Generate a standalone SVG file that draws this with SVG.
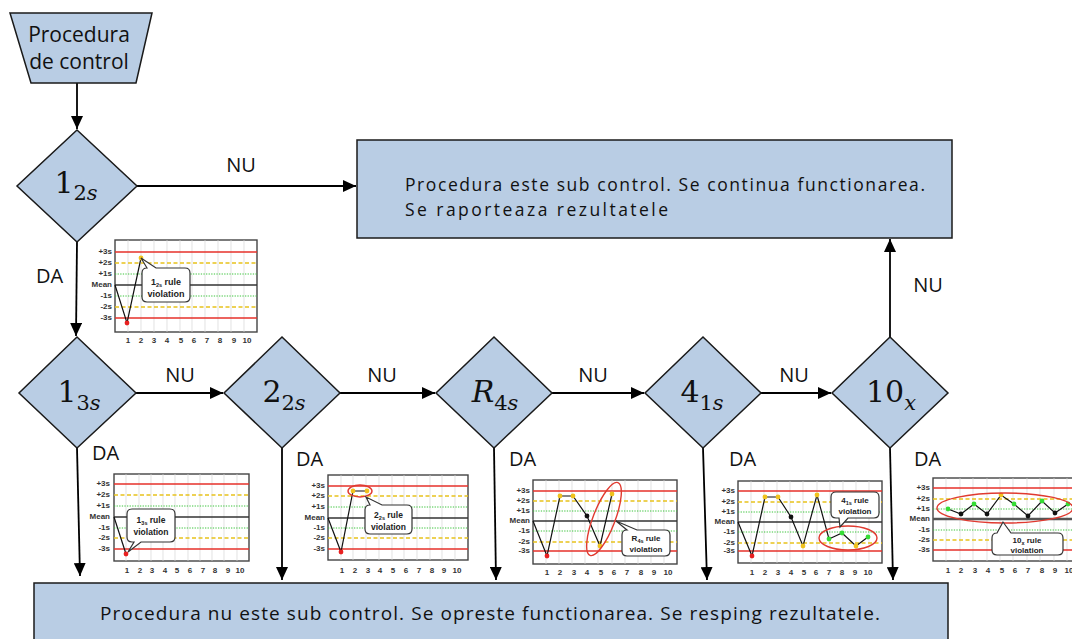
<svg xmlns="http://www.w3.org/2000/svg" width="1072" height="639" viewBox="0 0 1072 639">
<style>
.sh{fill:#b9cde4;stroke:#1a1a1a;stroke-width:1.5}
.t{font-family:"Open Sans","Noto Sans",sans-serif;fill:#111}
.lbl{font-family:"Open Sans","Noto Sans",sans-serif;font-size:20px;fill:#111}
.m{font-family:"DejaVu Serif","Liberation Serif",serif;fill:#111}
.c{stroke:#000;stroke-width:1.8;fill:none}
.fr{fill:#fff;stroke:#444;stroke-width:1.4}
.gr{stroke:#d6d6d6;stroke-width:0.7;fill:none}
.r{stroke:#e6302a;stroke-width:1.4}
.y{stroke:#e8c21c;stroke-width:1.3;stroke-dasharray:4 2.5}
.g{stroke:#3cc43c;stroke-width:1;stroke-dasharray:1.3 1.3}
.mn{stroke:#333;stroke-width:1.3}
.dl{stroke:#111;stroke-width:1.2;fill:none}
.ax{font-family:"Liberation Sans",Arial,sans-serif;font-size:8px;font-weight:bold;fill:#333}
.ax2{font-family:"Liberation Sans",Arial,sans-serif;font-size:8px;font-weight:bold;fill:#333;text-anchor:middle}
.co{fill:#fff;stroke:#333;stroke-width:1.2}
.ct{font-family:"Liberation Sans",Arial,sans-serif;font-weight:bold;fill:#222;text-anchor:middle}
.dr{fill:#e82020}.dy{fill:#f0c21e}.dk{fill:#111}.dg{fill:#35dd35}
.el{fill:none;stroke:#e03a30;stroke-width:1.4}
</style>
<defs>
<marker id="ah" markerUnits="userSpaceOnUse" markerWidth="14" markerHeight="12" refX="13" refY="6" orient="auto">
<path d="M0,0 L13,6 L0,12 Z" fill="#000"/>
</marker>
</defs>

<g id="connectors">
<line class="c" x1="77" y1="83" x2="77" y2="129" marker-end="url(#ah)"/>
<line class="c" x1="137" y1="186" x2="356" y2="186" marker-end="url(#ah)"/>
<line class="c" x1="77" y1="242" x2="76" y2="336" marker-end="url(#ah)"/>
<line class="c" x1="136" y1="393" x2="223" y2="393" marker-end="url(#ah)"/>
<line class="c" x1="340" y1="393" x2="435" y2="393" marker-end="url(#ah)"/>
<line class="c" x1="552" y1="393" x2="644" y2="393" marker-end="url(#ah)"/>
<line class="c" x1="761" y1="393" x2="831" y2="393" marker-end="url(#ah)"/>
<line class="c" x1="890" y1="337" x2="890" y2="239" marker-end="url(#ah)"/>
<line class="c" x1="77" y1="448" x2="80" y2="576" marker-end="url(#ah)"/>
<line class="c" x1="282" y1="448" x2="282" y2="580" marker-end="url(#ah)"/>
<line class="c" x1="494" y1="448" x2="496" y2="580" marker-end="url(#ah)"/>
<line class="c" x1="703" y1="448" x2="707" y2="580" marker-end="url(#ah)"/>
<line class="c" x1="890" y1="448" x2="893" y2="580" marker-end="url(#ah)"/>
<text class="lbl" x="241" y="172" text-anchor="middle">NU</text>
<text class="lbl" x="36" y="283">DA</text>
<text class="lbl" x="180" y="382" text-anchor="middle">NU</text>
<text class="lbl" x="382" y="382" text-anchor="middle">NU</text>
<text class="lbl" x="593" y="382" text-anchor="middle">NU</text>
<text class="lbl" x="794" y="382" text-anchor="middle">NU</text>
<text class="lbl" x="928" y="292" text-anchor="middle">NU</text>
<text class="lbl" x="92" y="460">DA</text>
<text class="lbl" x="296" y="466">DA</text>
<text class="lbl" x="509" y="466">DA</text>
<text class="lbl" x="729" y="466">DA</text>
<text class="lbl" x="914" y="466">DA</text>
</g>

<g id="start">
<polygon class="sh" points="10,13 152,13 136,83 31,83"/>
<text class="t" font-size="21" x="79" y="42" text-anchor="middle">Procedura</text>
<text class="t" font-size="21" x="79" y="69" text-anchor="middle">de control</text>
</g>

<g id="ok-box">
<rect class="sh" x="357" y="140" width="595" height="98"/>
<text class="t" font-size="17.5" x="405" y="191" textLength="520" lengthAdjust="spacing">Procedura este sub control. Se continua functionarea.</text>
<text class="t" font-size="17.5" x="405" y="216" textLength="263" lengthAdjust="spacing">Se raporteaza rezultatele</text>
</g>

<g id="fail-box">
<rect class="sh" x="34" y="583" width="914" height="58"/>
<text class="t" font-size="19" x="100" y="620" textLength="780" lengthAdjust="spacing">Procedura nu este sub control. Se opreste functionarea. Se resping rezultatele.</text>
</g>

<g id="d-1-2s">
<polygon class="sh" points="77,130 137,186 77,242 17,186"/>
<text class="m" x="76" y="193" text-anchor="middle" font-size="30">1<tspan font-size="21" dy="7">2<tspan font-style="italic">s</tspan></tspan></text>
</g>
<g id="d-1-3s">
<polygon class="sh" points="77,337 136,393 77,448 19,393"/>
<text class="m" x="79" y="402" text-anchor="middle" font-size="30">1<tspan font-size="21" dy="8">3<tspan font-style="italic">s</tspan></tspan></text>
</g>
<g id="d-2-2s">
<polygon class="sh" points="282,337 340,393 282,448 224,393"/>
<text class="m" x="284" y="402" text-anchor="middle" font-size="30">2<tspan font-size="21" dy="8">2<tspan font-style="italic">s</tspan></tspan></text>
</g>
<g id="d-r-4s">
<polygon class="sh" points="494,337 552,393 494,448 436,393"/>
<text class="m" x="495" y="402" text-anchor="middle" font-size="30"><tspan font-style="italic">R</tspan><tspan font-size="21" dy="8">4<tspan font-style="italic">s</tspan></tspan></text>
</g>
<g id="d-4-1s">
<polygon class="sh" points="703,337 761,393 703,448 645,393"/>
<text class="m" x="702" y="402" text-anchor="middle" font-size="30">4<tspan font-size="21" dy="8">1<tspan font-style="italic">s</tspan></tspan></text>
</g>
<g id="d-10x">
<polygon class="sh" points="890,337 948,393 890,448 832,393"/>
<text class="m" x="891" y="402" text-anchor="middle" font-size="30">10<tspan font-size="21" dy="8" font-style="italic">x</tspan></text>
</g>

<!-- chart 1: 1_2s -->
<g id="chart-1-2s">
<rect class="fr" x="115" y="240" width="142" height="92"/>
<path class="gr" d="M128,240V332M141,240V332M154,240V332M167,240V332M180,240V332M192,240V332M205,240V332M218,240V332M231,240V332M244,240V332"/>
<line class="r" x1="115" y1="252" x2="257" y2="252"/>
<line class="y" x1="115" y1="263" x2="257" y2="263"/>
<line class="g" x1="115" y1="274" x2="257" y2="274"/>
<line class="mn" x1="115" y1="285" x2="257" y2="285"/>
<line class="g" x1="115" y1="296" x2="257" y2="296"/>
<line class="y" x1="115" y1="307" x2="257" y2="307"/>
<line class="r" x1="115" y1="318" x2="257" y2="318"/>
<g class="ax" text-anchor="end">
<text x="112" y="254">+3s</text><text x="112" y="265">+2s</text><text x="112" y="276">+1s</text><text x="112" y="287">Mean</text><text x="112" y="298">-1s</text><text x="112" y="309">-2s</text><text x="112" y="320">-3s</text>
</g>
<g class="ax2">
<text x="128" y="343">1</text><text x="141" y="343">2</text><text x="154" y="343">3</text><text x="167" y="343">4</text><text x="181" y="343">5</text><text x="194" y="343">6</text><text x="207" y="343">7</text><text x="220" y="343">8</text><text x="234" y="343">9</text><text x="247" y="343">10</text>
</g>
<polyline class="dl" points="115,285 127,323 141,258"/>
<circle class="dr" cx="127" cy="323" r="2.4"/>
<circle class="dy" cx="141" cy="258" r="2.4"/>
<path class="co" d="M147,268 L141,258 L156,268 H185 Q190,268 190,273 V297 Q190,302 185,302 H147 Q142,302 142,297 V273 Q142,268 147,268 Z"/>
<text class="ct" font-size="9" x="166" y="285">1<tspan font-size="5.5" dy="1.5">2s</tspan><tspan dy="-1.5"> rule</tspan></text>
<text class="ct" font-size="9" x="166" y="297">violation</text>
</g>

<!-- chart 2: 1_3s -->
<g id="chart-1-3s">
<rect class="fr" x="114" y="474" width="135" height="87"/>
<path class="gr" d="M126,474V561M139,474V561M151,474V561M163,474V561M175,474V561M188,474V561M200,474V561M212,474V561M224,474V561M237,474V561"/>
<line class="r" x1="114" y1="484" x2="249" y2="484"/>
<line class="y" x1="114" y1="495" x2="249" y2="495"/>
<line class="g" x1="114" y1="506" x2="249" y2="506"/>
<line class="mn" x1="114" y1="517" x2="249" y2="517"/>
<line class="g" x1="114" y1="528" x2="249" y2="528"/>
<line class="y" x1="114" y1="538" x2="249" y2="538"/>
<line class="r" x1="114" y1="549" x2="249" y2="549"/>
<g class="ax" text-anchor="end">
<text x="110" y="486">+3s</text><text x="110" y="497">+2s</text><text x="110" y="508">+1s</text><text x="110" y="519">Mean</text><text x="110" y="530">-1s</text><text x="110" y="540">-2s</text><text x="110" y="551">-3s</text>
</g>
<g class="ax2">
<text x="127" y="573">1</text><text x="140" y="573">2</text><text x="152" y="573">3</text><text x="165" y="573">4</text><text x="177" y="573">5</text><text x="190" y="573">6</text><text x="203" y="573">7</text><text x="215" y="573">8</text><text x="228" y="573">9</text><text x="240" y="573">10</text>
</g>
<polyline class="dl" points="114,517 126,554"/>
<circle class="dr" cx="126" cy="554" r="2.4"/>
<path class="co" d="M132,509 H170 Q175,509 175,514 V537 Q175,542 170,542 H141 L128,552 L134,542 H132 Q127,542 127,537 V514 Q127,509 132,509 Z"/>
<text class="ct" font-size="8.5" x="151" y="523">1<tspan font-size="5.5" dy="1.5">3s</tspan><tspan dy="-1.5"> rule</tspan></text>
<text class="ct" font-size="8.5" x="151" y="535">violation</text>
</g>

<!-- chart 3: 2_2s -->
<g id="chart-2-2s">
<rect class="fr" x="328" y="475" width="140" height="85"/>
<path class="gr" d="M341,475V560M353,475V560M366,475V560M379,475V560M392,475V560M404,475V560M417,475V560M430,475V560M442,475V560M455,475V560"/>
<line class="r" x1="328" y1="486" x2="468" y2="486"/>
<line class="y" x1="328" y1="496" x2="468" y2="496"/>
<line class="g" x1="328" y1="507" x2="468" y2="507"/>
<line class="mn" x1="328" y1="518" x2="468" y2="518"/>
<line class="g" x1="328" y1="528" x2="468" y2="528"/>
<line class="y" x1="328" y1="538" x2="468" y2="538"/>
<line class="r" x1="328" y1="549" x2="468" y2="549"/>
<g class="ax" text-anchor="end">
<text x="325" y="488">+3s</text><text x="325" y="498">+2s</text><text x="325" y="509">+1s</text><text x="325" y="520">Mean</text><text x="325" y="530">-1s</text><text x="325" y="540">-2s</text><text x="325" y="551">-3s</text>
</g>
<g class="ax2">
<text x="342" y="573">1</text><text x="355" y="573">2</text><text x="368" y="573">3</text><text x="380" y="573">4</text><text x="393" y="573">5</text><text x="406" y="573">6</text><text x="419" y="573">7</text><text x="432" y="573">8</text><text x="444" y="573">9</text><text x="457" y="573">10</text>
</g>
<polyline class="dl" points="328,518 341,552 353,491 367,491"/>
<circle class="dr" cx="341" cy="552" r="2.4"/>
<circle class="dy" cx="353" cy="491" r="2.4"/>
<circle class="dy" cx="367" cy="491" r="2.4"/>
<ellipse class="el" cx="360" cy="491" rx="12" ry="6" stroke="#e0602a"/>
<path class="co" d="M370,505 L366,497 L382,505 H407 Q412,505 412,510 V529 Q412,534 407,534 H370 Q365,534 365,529 V510 Q365,505 370,505 Z"/>
<text class="ct" font-size="8.5" x="388.5" y="518">2<tspan font-size="5.5" dy="1.5">2s</tspan><tspan dy="-1.5"> rule</tspan></text>
<text class="ct" font-size="8.5" x="388.5" y="530">violation</text>
</g>

<!-- chart 4: R_4s -->
<g id="chart-r-4s">
<rect class="fr" x="533" y="480" width="144" height="84"/>
<path class="gr" d="M546,480V564M559,480V564M572,480V564M585,480V564M598,480V564M612,480V564M625,480V564M638,480V564M651,480V564M664,480V564"/>
<line class="r" x1="533" y1="491" x2="677" y2="491"/>
<line class="y" x1="533" y1="501" x2="677" y2="501"/>
<line class="g" x1="533" y1="511" x2="677" y2="511"/>
<line class="mn" x1="533" y1="521" x2="677" y2="521"/>
<line class="g" x1="533" y1="531" x2="677" y2="531"/>
<line class="y" x1="533" y1="542" x2="677" y2="542"/>
<line class="r" x1="533" y1="551" x2="677" y2="551"/>
<g class="ax" text-anchor="end">
<text x="530" y="493">+3s</text><text x="530" y="503">+2s</text><text x="530" y="513">+1s</text><text x="530" y="523">Mean</text><text x="530" y="533">-1s</text><text x="530" y="544">-2s</text><text x="530" y="553">-3s</text>
</g>
<g class="ax2">
<text x="547" y="575">1</text><text x="560" y="575">2</text><text x="574" y="575">3</text><text x="587" y="575">4</text><text x="601" y="575">5</text><text x="614" y="575">6</text><text x="627" y="575">7</text><text x="641" y="575">8</text><text x="654" y="575">9</text><text x="668" y="575">10</text>
</g>
<polyline class="dl" points="533,521 547,556 560,496 573,496 587,516 600,546 612,494"/>
<circle class="dr" cx="547" cy="556" r="2.4"/>
<circle class="dy" cx="560" cy="496" r="2.4"/>
<circle class="dy" cx="573" cy="496" r="2.4"/>
<circle class="dk" cx="587" cy="516" r="2.4"/>
<circle class="dy" cx="600" cy="546" r="2.4"/>
<circle class="dy" cx="612" cy="494" r="2.4"/>
<ellipse class="el" cx="604" cy="519" rx="11" ry="39" transform="rotate(21 604 519)"/>
<path class="co" d="M627,530 L616,521 L637,530 H665 Q670,530 670,535 V551 Q670,556 665,556 H627 Q622,556 622,551 V535 Q622,530 627,530 Z"/>
<text class="ct" font-size="8" x="646" y="541">R<tspan font-size="5.5" dy="1.5">4s</tspan><tspan dy="-1.5"> rule</tspan></text>
<text class="ct" font-size="8" x="646" y="552">violation</text>
</g>

<!-- chart 5: 4_1s -->
<g id="chart-4-1s">
<rect class="fr" x="738" y="481" width="144" height="82"/>
<path class="gr" d="M751,481V563M764,481V563M777,481V563M790,481V563M803,481V563M817,481V563M830,481V563M843,481V563M856,481V563M869,481V563"/>
<line class="r" x1="738" y1="491" x2="882" y2="491"/>
<line class="y" x1="738" y1="502" x2="882" y2="502"/>
<line class="g" x1="738" y1="512" x2="882" y2="512"/>
<line class="mn" x1="738" y1="522" x2="882" y2="522"/>
<line class="g" x1="738" y1="532" x2="882" y2="532"/>
<line class="y" x1="738" y1="543" x2="882" y2="543"/>
<line class="r" x1="738" y1="551" x2="882" y2="551"/>
<g class="ax" text-anchor="end">
<text x="735" y="493">+3s</text><text x="735" y="504">+2s</text><text x="735" y="514">+1s</text><text x="735" y="524">Mean</text><text x="735" y="534">-1s</text><text x="735" y="545">-2s</text><text x="735" y="553">-3s</text>
</g>
<g class="ax2">
<text x="752" y="575">1</text><text x="765" y="575">2</text><text x="778" y="575">3</text><text x="791" y="575">4</text><text x="804" y="575">5</text><text x="816" y="575">6</text><text x="829" y="575">7</text><text x="842" y="575">8</text><text x="855" y="575">9</text><text x="868" y="575">10</text>
</g>
<polyline class="dl" points="738,522 752,556 765,497 778,497 791,517 803,546 817,495 829,539 842,533 856,546 868,537"/>
<circle class="dr" cx="752" cy="556" r="2.4"/>
<circle class="dy" cx="765" cy="497" r="2.4"/>
<circle class="dy" cx="778" cy="497" r="2.4"/>
<circle class="dk" cx="791" cy="517" r="2.4"/>
<circle class="dy" cx="803" cy="546" r="2.4"/>
<circle class="dy" cx="817" cy="495" r="2.4"/>
<circle class="dg" cx="829" cy="539" r="2.4"/>
<circle class="dg" cx="842" cy="533" r="2.4"/>
<circle class="dy" cx="856" cy="546" r="2.4"/>
<circle class="dg" cx="868" cy="537" r="2.4"/>
<ellipse class="el" cx="848" cy="538" rx="29" ry="12"/>
<path class="co" d="M836,492 H874 Q879,492 879,497 V513 Q879,518 874,518 H848 L840,527 L839,518 H836 Q831,518 831,513 V497 Q831,492 836,492 Z"/>
<text class="ct" font-size="8" x="855" y="503">4<tspan font-size="5.5" dy="1.5">1s</tspan><tspan dy="-1.5"> rule</tspan></text>
<text class="ct" font-size="8" x="855" y="514">violation</text>
</g>

<!-- chart 6: 10_x -->
<g id="chart-10x">
<rect class="fr" x="933" y="478" width="147" height="83"/>
<path class="gr" d="M946,478V561M960,478V561M973,478V561M987,478V561M1000,478V561M1013,478V561M1027,478V561M1040,478V561M1054,478V561M1067,478V561"/>
<line class="r" x1="933" y1="488" x2="1080" y2="488"/>
<line class="y" x1="933" y1="499" x2="1080" y2="499"/>
<line class="g" x1="933" y1="509" x2="1080" y2="509"/>
<line stroke="#555" stroke-width="2.4" x1="933" y1="519" x2="1080" y2="519"/>
<line class="g" x1="933" y1="530" x2="1080" y2="530"/>
<line class="y" x1="933" y1="540" x2="1080" y2="540"/>
<line class="r" x1="933" y1="550" x2="1080" y2="550"/>
<g class="ax" text-anchor="end">
<text x="930" y="490">+3s</text><text x="930" y="501">+2s</text><text x="930" y="511">+1s</text><text x="930" y="521">Mean</text><text x="930" y="532">-1s</text><text x="930" y="542">-2s</text><text x="930" y="552">-3s</text>
</g>
<g class="ax2">
<text x="948" y="573">1</text><text x="961" y="573">2</text><text x="975" y="573">3</text><text x="988" y="573">4</text><text x="1002" y="573">5</text><text x="1015" y="573">6</text><text x="1028" y="573">7</text><text x="1042" y="573">8</text><text x="1055" y="573">9</text><text x="1069" y="573">10</text>
</g>
<polyline class="dl" points="948,509 961,514 974,504 987,514 1001,495 1014,504 1028,516 1042,501 1055,513 1068,504"/>
<circle class="dg" cx="948" cy="509" r="2.4"/>
<circle class="dk" cx="961" cy="514" r="2.4"/>
<circle class="dg" cx="974" cy="504" r="2.4"/>
<circle class="dk" cx="987" cy="514" r="2.4"/>
<circle class="dy" cx="1001" cy="495" r="2.4"/>
<circle class="dg" cx="1014" cy="504" r="2.4"/>
<circle class="dk" cx="1028" cy="516" r="2.4"/>
<circle class="dg" cx="1042" cy="501" r="2.4"/>
<circle class="dk" cx="1055" cy="513" r="2.4"/>
<circle class="dg" cx="1068" cy="504" r="2.4"/>
<ellipse class="el" cx="1005" cy="508" rx="68" ry="15"/>
<path class="co" d="M997,533 L1003,522 L1011,533 H1058 Q1063,533 1063,538 V550 Q1063,555 1058,555 H997 Q992,555 992,550 V538 Q992,533 997,533 Z"/>
<text class="ct" font-size="8" x="1027" y="543">10<tspan font-size="5.5" dy="1.5">x</tspan><tspan dy="-1.5"> rule</tspan></text>
<text class="ct" font-size="8" x="1027" y="553">violation</text>
</g>
</svg>
